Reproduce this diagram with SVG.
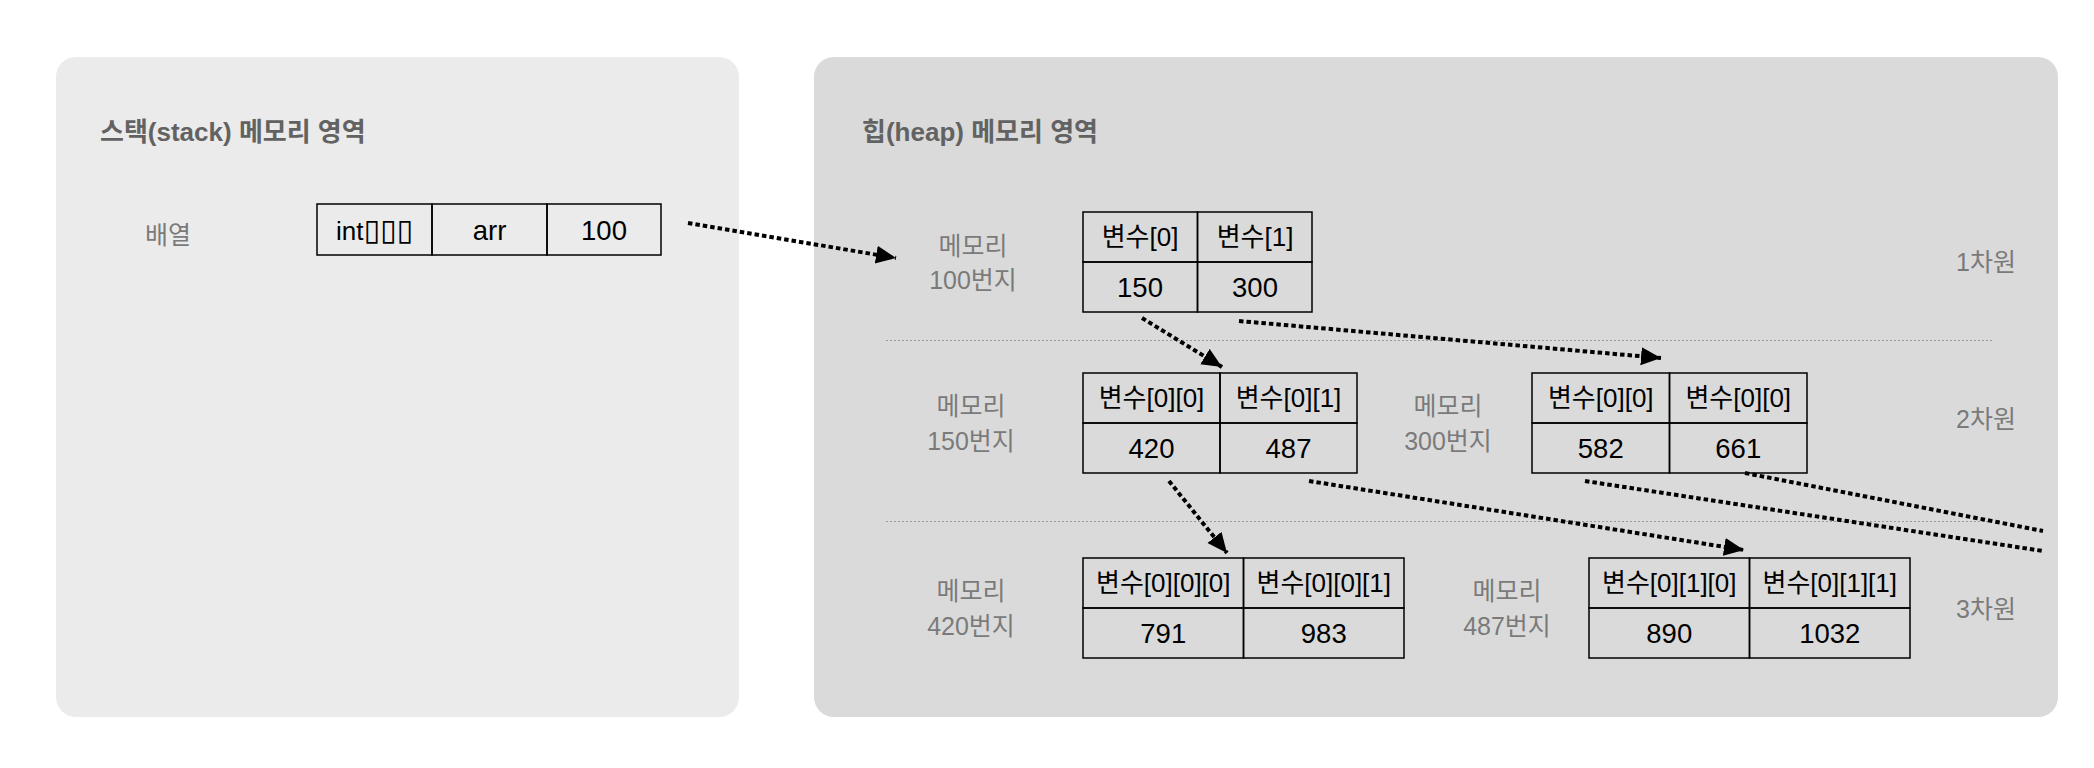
<svg xmlns="http://www.w3.org/2000/svg" width="2094" height="768" viewBox="0 0 2094 768">
  <defs>
    <style>
      text { font-family: "Liberation Sans", "Noto Sans CJK KR", sans-serif; }
      .title { font-size: 26px; font-weight: bold; fill: #626262; }
      .lbl { font-size: 25px; fill: #7a7a7a; text-anchor: middle; }
      .cell { fill: none; stroke: #000; stroke-width: 1.5; }
      .ct { font-size: 26px; fill: #000; text-anchor: middle; }
      .cv { font-size: 27.5px; fill: #000; text-anchor: middle; }
      .sep { stroke: #9a9a9a; stroke-width: 1; stroke-dasharray: 2 2; fill: none; }
      .conn { stroke: #000; stroke-width: 4; stroke-dasharray: 4.5 3; fill: none; }
      .tofu { font-family: "DejaVu Sans", sans-serif; font-size: 30px; }
    </style>
    <marker id="ah" markerUnits="userSpaceOnUse" markerWidth="22" markerHeight="20" refX="20" refY="9" orient="auto">
      <path d="M0,0 L20,9 L0,18 Z" fill="#000"/>
    </marker>
  </defs>
  <rect x="0" y="0" width="2094" height="768" fill="#ffffff"/>

  <g id="stack-panel">
    <rect x="56" y="57" width="683" height="660" rx="20" ry="20" fill="#ebebeb"/>
    <text class="title" x="100" y="141">스택(stack) 메모리 영역</text>
    <text class="lbl" x="168" y="244">배열</text>
  </g>

  <g id="heap-panel">
    <rect x="814" y="57" width="1244" height="660" rx="20" ry="20" fill="#dadada"/>
    <text class="title" x="862" y="141">힙(heap) 메모리 영역</text>
    <line class="sep" x1="886" y1="340.5" x2="1993" y2="340.5"/>
    <line class="sep" x1="886" y1="521.5" x2="1993" y2="521.5"/>
    <text class="lbl" x="1986" y="271">1차원</text>
    <text class="lbl" x="1986" y="428">2차원</text>
    <text class="lbl" x="1986" y="618">3차원</text>
  </g>

  <g id="stack-array">
    <rect class="cell" x="317" y="204" width="115" height="51"/>
    <rect class="cell" x="432" y="204" width="115" height="51"/>
    <rect class="cell" x="547" y="204" width="114" height="51"/>
    <text class="ct" x="374.5" y="240">int<tspan class="tofu">▯▯▯</tspan></text>
    <text class="cv" x="489.5" y="240">arr</text>
    <text class="cv" x="604" y="240">100</text>
  </g>

  <g id="heap-100">
    <text class="lbl" x="973" y="255">메모리</text>
    <text class="lbl" x="973" y="289">100번지</text>
    <rect class="cell" x="1083" y="212" width="114.5" height="50"/>
    <rect class="cell" x="1197.5" y="212" width="114.5" height="50"/>
    <rect class="cell" x="1083" y="262" width="114.5" height="50"/>
    <rect class="cell" x="1197.5" y="262" width="114.5" height="50"/>
    <text class="ct" x="1140" y="246">변수[0]</text>
    <text class="ct" x="1255" y="246">변수[1]</text>
    <text class="cv" x="1140" y="297">150</text>
    <text class="cv" x="1255" y="297">300</text>
  </g>

  <g id="heap-150">
    <text class="lbl" x="971" y="415">메모리</text>
    <text class="lbl" x="971" y="450">150번지</text>
    <rect class="cell" x="1083" y="373" width="137" height="50"/>
    <rect class="cell" x="1220" y="373" width="137" height="50"/>
    <rect class="cell" x="1083" y="423" width="137" height="50"/>
    <rect class="cell" x="1220" y="423" width="137" height="50"/>
    <text class="ct" x="1151.5" y="407">변수[0][0]</text>
    <text class="ct" x="1288.5" y="407">변수[0][1]</text>
    <text class="cv" x="1151.5" y="458">420</text>
    <text class="cv" x="1288.5" y="458">487</text>
  </g>

  <g id="heap-300">
    <text class="lbl" x="1448" y="415">메모리</text>
    <text class="lbl" x="1448" y="450">300번지</text>
    <rect class="cell" x="1532" y="373" width="137.5" height="50"/>
    <rect class="cell" x="1669.5" y="373" width="137.5" height="50"/>
    <rect class="cell" x="1532" y="423" width="137.5" height="50"/>
    <rect class="cell" x="1669.5" y="423" width="137.5" height="50"/>
    <text class="ct" x="1600.75" y="407">변수[0][0]</text>
    <text class="ct" x="1738.25" y="407">변수[0][0]</text>
    <text class="cv" x="1600.75" y="458">582</text>
    <text class="cv" x="1738.25" y="458">661</text>
  </g>

  <g id="heap-420">
    <text class="lbl" x="971" y="600">메모리</text>
    <text class="lbl" x="971" y="635">420번지</text>
    <rect class="cell" x="1083" y="558" width="160.5" height="50"/>
    <rect class="cell" x="1243.5" y="558" width="160.5" height="50"/>
    <rect class="cell" x="1083" y="608" width="160.5" height="50"/>
    <rect class="cell" x="1243.5" y="608" width="160.5" height="50"/>
    <text class="ct" x="1163.25" y="592">변수[0][0][0]</text>
    <text class="ct" x="1323.75" y="592">변수[0][0][1]</text>
    <text class="cv" x="1163.25" y="643">791</text>
    <text class="cv" x="1323.75" y="643">983</text>
  </g>

  <g id="heap-487">
    <text class="lbl" x="1507" y="600">메모리</text>
    <text class="lbl" x="1507" y="635">487번지</text>
    <rect class="cell" x="1589" y="558" width="160.5" height="50"/>
    <rect class="cell" x="1749.5" y="558" width="160.5" height="50"/>
    <rect class="cell" x="1589" y="608" width="160.5" height="50"/>
    <rect class="cell" x="1749.5" y="608" width="160.5" height="50"/>
    <text class="ct" x="1669.25" y="592">변수[0][1][0]</text>
    <text class="ct" x="1829.75" y="592">변수[0][1][1]</text>
    <text class="cv" x="1669.25" y="643">890</text>
    <text class="cv" x="1829.75" y="643">1032</text>
  </g>

  <g id="connectors">
    <line class="conn" x1="688" y1="223" x2="896" y2="258" marker-end="url(#ah)"/>
    <line class="conn" x1="1142" y1="318" x2="1222" y2="367" marker-end="url(#ah)"/>
    <line class="conn" x1="1239" y1="321" x2="1661" y2="358" marker-end="url(#ah)"/>
    <line class="conn" x1="1169" y1="481" x2="1227" y2="553" marker-end="url(#ah)"/>
    <line class="conn" x1="1309" y1="481" x2="1744" y2="550" marker-end="url(#ah)"/>
    <line class="conn" x1="1585" y1="481" x2="2043" y2="551"/>
    <line class="conn" x1="1745" y1="473" x2="2043" y2="531"/>
  </g>
</svg>
